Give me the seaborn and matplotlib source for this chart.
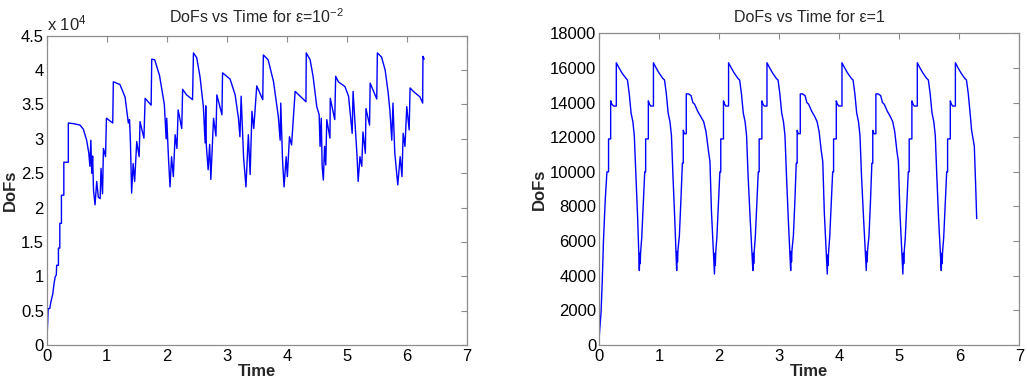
import numpy as np
import pandas as pd
import matplotlib
matplotlib.use("Agg")
import matplotlib.pyplot as plt
import seaborn as sns
from matplotlib.ticker import FuncFormatter

# ── Data: epsilon = 1e-2 (left panel) ─────────────────────────────────────────
t_small = [
    0.000, 0.025, 0.050, 0.070, 0.100, 0.120, 0.140, 0.160, 0.165, 0.195,
    0.195, 0.218, 0.218, 0.245, 0.245, 0.285, 0.285, 0.360, 0.360, 0.450,
    0.555, 0.610, 0.665, 0.700, 0.720, 0.735, 0.750, 0.765, 0.780, 0.805,
    0.833, 0.860, 0.890, 0.905, 0.930, 0.945, 0.980, 0.995, 1.100, 1.110,
    1.220, 1.305, 1.360, 1.380, 1.395, 1.415, 1.440, 1.465, 1.500, 1.540,
    1.555, 1.620, 1.640, 1.740, 1.750, 1.800, 1.880, 1.960, 1.990, 2.000,
    2.030, 2.055, 2.080, 2.110, 2.140, 2.170, 2.190, 2.250, 2.265, 2.330,
    2.430, 2.445, 2.500, 2.555, 2.610, 2.640, 2.650, 2.660, 2.690, 2.715,
    2.735, 2.780, 2.820, 2.835, 2.920, 2.930, 3.055, 3.140, 3.195, 3.220,
    3.240, 3.280, 3.320, 3.360, 3.390, 3.420, 3.450, 3.500, 3.600, 3.610,
    3.690, 3.780, 3.860, 3.890, 3.900, 3.930, 3.955, 3.990, 4.010, 4.045,
    4.080, 4.140, 4.320, 4.325, 4.390, 4.440, 4.500, 4.540, 4.555, 4.575,
    4.590, 4.610, 4.630, 4.650, 4.667, 4.720, 4.725, 4.800, 4.815, 4.860,
    4.970, 5.030, 5.090, 5.105, 5.170, 5.190, 5.220, 5.250, 5.270, 5.310,
    5.320, 5.380, 5.390, 5.470, 5.500, 5.510, 5.580, 5.640, 5.690, 5.720,
    5.750, 5.770, 5.800, 5.850, 5.890, 5.920, 5.940, 5.970, 6.000, 6.040,
    6.055, 6.110, 6.220, 6.265, 6.270, 6.290,
]
dofs_small = [
    0, 5300, 5300, 6300, 7400, 8800, 9900, 10200, 11600, 11600,
    14100, 14100, 17700, 17700, 21800, 21800, 26600, 26600, 32300, 32200,
    32000, 31400, 29800, 28000, 26000, 29800, 25000, 27500, 22500, 20400,
    23800, 21500, 21300, 25700, 22000, 28600, 27400, 33000, 32300, 38300,
    37900, 36100, 32300, 32800, 29500, 22100, 26400, 23800, 29600, 27400,
    32500, 30100, 35900, 34900, 41600, 41500, 39200, 35000, 30000, 33000,
    27000, 23000, 27400, 24500, 30600, 28600, 34200, 31500, 37200, 36400,
    35700, 42500, 41800, 39000, 34700, 29400, 34800, 29000, 25500, 29200,
    24100, 33000, 30400, 36400, 33500, 39600, 38700, 36400, 33000, 30300,
    36200, 27400, 23000, 30600, 24800, 34000, 31500, 37700, 35700, 42200,
    41500, 38300, 33200, 29800, 35200, 26900, 23000, 27400, 24500, 30300,
    29100, 36900, 35400, 42500, 41500, 39000, 34700, 33500, 28900, 33000,
    26000, 24000, 28900, 26200, 32800, 30100, 35900, 32800, 39100, 38300,
    37600, 36200, 30800, 36900, 27700, 23800, 27400, 26000, 31000, 27900,
    34400, 32000, 38100, 36400, 35800, 42500, 41900, 40000, 36700, 34000,
    29800, 35200, 28000, 23300, 27400, 24500, 30800, 28900, 34700, 31300,
    37400, 36900, 36100, 35200, 42000, 41600,
]

# ── Data: epsilon = 1 (right panel) ───────────────────────────────────────────
t_one = [
    0.000, 0.015, 0.030, 0.050, 0.070, 0.085, 0.100, 0.128, 0.155, 0.155,
    0.190, 0.190, 0.210, 0.240, 0.284, 0.284, 0.330, 0.380, 0.445, 0.470,
    0.500, 0.530, 0.560, 0.584, 0.610, 0.640, 0.668,
    0.676, 0.682, 0.690, 0.708, 0.738, 0.758, 0.773, 0.773, 0.818, 0.818,
    0.838, 0.858, 0.903, 0.903, 0.948, 0.998, 1.058, 1.088, 1.118, 1.148,
    1.178, 1.203, 1.228, 1.258, 1.290,
    1.298, 1.304, 1.312, 1.335, 1.360, 1.385, 1.400, 1.400, 1.420, 1.450,
    1.450, 1.490, 1.530, 1.560, 1.590, 1.640, 1.690, 1.740, 1.780, 1.820,
    1.845, 1.870, 1.920,
    1.928, 1.934, 1.942, 1.960, 1.990, 2.010, 2.025, 2.025, 2.070, 2.070,
    2.090, 2.110, 2.155, 2.155, 2.200, 2.250, 2.310, 2.340, 2.370, 2.400,
    2.430, 2.455, 2.480, 2.515, 2.560,
    2.568, 2.574, 2.582, 2.600, 2.630, 2.650, 2.665, 2.665, 2.710, 2.710,
    2.730, 2.750, 2.795, 2.795, 2.840, 2.890, 2.950, 2.980, 3.010, 3.040,
    3.070, 3.095, 3.120, 3.150, 3.190,
    3.198, 3.204, 3.212, 3.235, 3.260, 3.283, 3.298, 3.298, 3.318, 3.350,
    3.350, 3.390, 3.430, 3.460, 3.490, 3.540, 3.590, 3.630, 3.665, 3.700,
    3.725, 3.750, 3.800,
    3.808, 3.814, 3.822, 3.840, 3.870, 3.890, 3.905, 3.905, 3.950, 3.950,
    3.970, 3.990, 4.045, 4.045, 4.090, 4.140, 4.200, 4.230, 4.260, 4.290,
    4.320, 4.345, 4.370, 4.405, 4.450,
    4.458, 4.464, 4.472, 4.495, 4.520, 4.543, 4.558, 4.558, 4.578, 4.610,
    4.610, 4.650, 4.690, 4.720, 4.750, 4.800, 4.850, 4.890, 4.925, 4.960,
    4.985, 5.010, 5.060,
    5.068, 5.074, 5.082, 5.100, 5.130, 5.150, 5.165, 5.165, 5.210, 5.210,
    5.230, 5.250, 5.300, 5.300, 5.345, 5.395, 5.455, 5.485, 5.515, 5.545,
    5.575, 5.600, 5.625, 5.655, 5.700,
    5.708, 5.714, 5.722, 5.740, 5.770, 5.790, 5.805, 5.805, 5.850, 5.850,
    5.870, 5.890, 5.935, 5.935, 5.980, 6.030, 6.090, 6.120, 6.150, 6.180,
    6.205, 6.250, 6.275, 6.290,
]
dofs_one = [
    500, 1200, 1900, 3700, 6000, 7200, 8400, 10000, 10000, 11900,
    11900, 14100, 13900, 13800, 13800, 16300, 16000, 15700, 15400, 15300,
    14500, 13400, 12900, 12100, 9800, 7300, 4300,
    5300, 4700, 5400, 6200, 8400, 10000, 10000, 11900, 11900, 14100,
    13900, 13800, 13800, 16300, 16000, 15700, 15400, 15300, 14500, 13400,
    12900, 12100, 9800, 7300, 4300,
    5400, 4800, 5500, 6300, 8300, 10500, 10500, 12400, 12200, 12200,
    14500, 14500, 14400, 14000, 13900, 13500, 13200, 12900, 12300, 11200,
    10600, 7700, 4100,
    5300, 4600, 5400, 6200, 8400, 10000, 10000, 11900, 11900, 14100,
    13900, 13800, 13800, 16300, 16000, 15700, 15400, 15300, 14500, 13400,
    12900, 12100, 9800, 7300, 4300,
    5300, 4700, 5400, 6200, 8400, 10000, 10000, 11900, 11900, 14100,
    13900, 13800, 13800, 16300, 16000, 15700, 15400, 15300, 14500, 13400,
    12900, 12100, 9800, 7300, 4300,
    5400, 4800, 5500, 6300, 8300, 10500, 10500, 12400, 12200, 12200,
    14500, 14500, 14400, 14000, 13900, 13500, 13200, 12900, 12300, 11200,
    10600, 7700, 4100,
    5200, 4600, 5400, 6200, 8400, 10000, 10000, 11900, 11900, 14100,
    13900, 13800, 13800, 16300, 16000, 15700, 15400, 15300, 14500, 13400,
    12900, 12100, 9800, 7300, 4300,
    5400, 4800, 5500, 6300, 8300, 10500, 10500, 12400, 12200, 12200,
    14500, 14500, 14400, 14000, 13900, 13500, 13200, 12900, 12300, 11200,
    10600, 7700, 4100,
    5300, 4700, 5400, 6200, 8400, 10000, 10000, 11900, 11900, 14100,
    13900, 13800, 13800, 16300, 16000, 15700, 15400, 15300, 14500, 13400,
    12900, 12100, 9800, 7300, 4300,
    5300, 4700, 5400, 6200, 8400, 10000, 10000, 11900, 11900, 14100,
    13900, 13800, 13800, 16300, 16000, 15700, 15400, 15300, 14500, 13400,
    12400, 11500, 9000, 7300,
]

# ── Style (MATLAB-like) ───────────────────────────────────────────────────────
sns.set_style("white")
plt.rcParams.update({
    "font.family": ["Liberation Sans", "DejaVu Sans"],
    "mathtext.default": "regular",
    "xtick.direction": "in",
    "ytick.direction": "in",
    "xtick.top": True,
    "ytick.right": True,
    "axes.edgecolor": "#8c8c8c",
    "xtick.color": "#8c8c8c",
    "ytick.color": "#8c8c8c",
    "xtick.labelcolor": "black",
    "ytick.labelcolor": "black",
})

fig = plt.figure(figsize=(10.27, 3.79), dpi=100)
ax1 = fig.add_axes([0.0455, 0.0897, 0.409, 0.816])
ax2 = fig.add_axes([0.5835, 0.0897, 0.409, 0.8224])

df_small = pd.DataFrame({"Time": t_small, "DoFs": dofs_small})
df_one = pd.DataFrame({"Time": t_one, "DoFs": dofs_one})

for ax, df in [(ax1, df_small), (ax2, df_one)]:
    sns.lineplot(data=df, x="Time", y="DoFs", ax=ax, color="#0000ff",
                 lw=1.0, estimator=None, sort=False)
    ax.set_xlim(0, 7)
    ax.set_xticks(range(0, 8))
    ax.tick_params(axis="both", which="both", length=4, width=0.8,
                   labelsize=12, pad=2)
    ax.tick_params(axis="x", pad=3)
    for s in ax.spines.values():
        s.set_linewidth(0.9)
    ax.set_xlabel("Time", fontsize=12, fontweight="bold", labelpad=0)
    ax.set_ylabel("DoFs", fontsize=12, fontweight="bold", labelpad=2)

# left panel
ax1.set_ylim(0, 45000)
ax1.set_yticks(np.arange(0, 45001, 5000))
ax1.yaxis.set_major_formatter(FuncFormatter(lambda v, p: f"{v / 1e4:g}"))
ax1.text(0.0, 1.006, "x 10$^4$", transform=ax1.transAxes, fontsize=12,
         ha="left", va="bottom")
ax1.set_title("DoFs vs Time for \u03b5=10$^{-2}$", fontsize=11.5, pad=9)

# right panel
ax2.set_ylim(0, 18000)
ax2.set_yticks(np.arange(0, 18001, 2000))
ax2.set_title("DoFs vs Time for \u03b5=1", fontsize=11.5, pad=8)

fig.savefig("out.png", dpi=100)
